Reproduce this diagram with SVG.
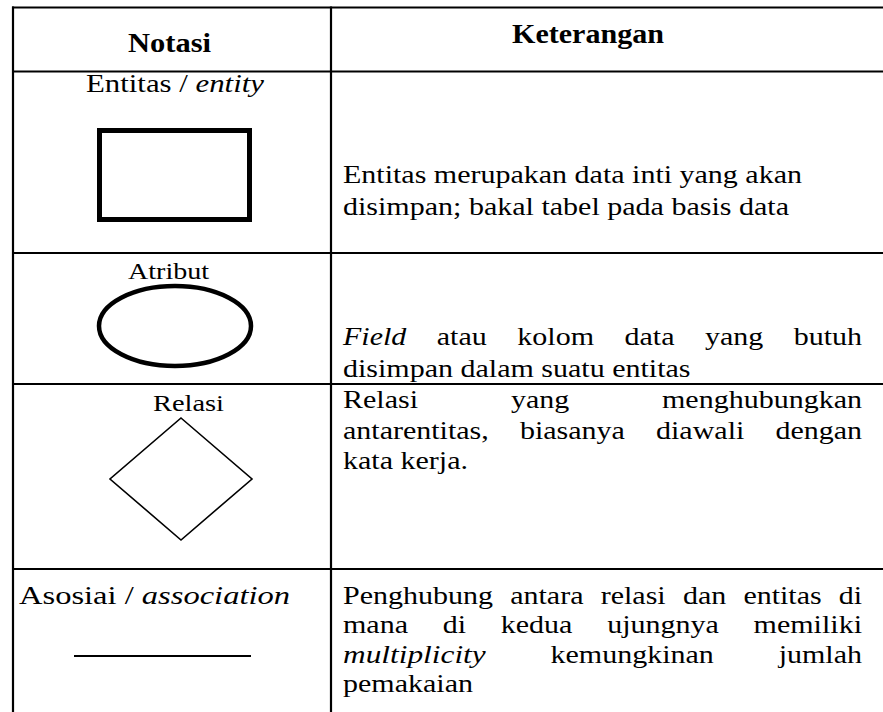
<svg xmlns="http://www.w3.org/2000/svg" width="883" height="712" viewBox="0 0 883 712">
<style>
  text { font-family: "Liberation Serif", Tinos, "Times New Roman", Times, "DejaVu Serif", serif; fill: #000; font-size: 26px; }
  .b { font-weight: bold; font-size: 27px; }
  .i { font-style: italic; }
  .sm { font-size: 24px; }
  .grid { stroke: #000; stroke-width: 2.2; fill: none; }
  .shape { fill: none; stroke: #000; }
</style>
<rect width="883" height="712" fill="#fff"/>
<g id="table-grid" class="grid">
  <line x1="12" y1="7.5" x2="883" y2="7.5"/>
  <line x1="13" y1="6.5" x2="13" y2="712"/>
  <line x1="331" y1="6.5" x2="331" y2="712"/>
  <line x1="12" y1="71.5" x2="883" y2="71.5"/>
  <line x1="12" y1="253" x2="883" y2="253"/>
  <line x1="12" y1="384" x2="883" y2="384"/>
  <line x1="12" y1="569" x2="883" y2="569"/>
</g>
<g id="header">
  <text class="b" x="128" y="52" textLength="83" lengthAdjust="spacingAndGlyphs">Notasi</text>
  <text class="b" x="512" y="43" textLength="152" lengthAdjust="spacingAndGlyphs">Keterangan</text>
</g>
<g id="entity">
  <text x="86" y="92" textLength="178" lengthAdjust="spacingAndGlyphs">Entitas / <tspan class="i">entity</tspan></text>
  <rect class="shape" x="99.5" y="130.5" width="150" height="89" stroke-width="5"/>
  <text x="343" y="183" textLength="459" lengthAdjust="spacingAndGlyphs">Entitas merupakan data inti yang akan</text>
  <text x="343" y="215" textLength="446" lengthAdjust="spacingAndGlyphs">disimpan; bakal tabel pada basis data</text>
</g>
<g id="attribute">
  <text class="sm" x="128" y="279" textLength="81" lengthAdjust="spacingAndGlyphs">Atribut</text>
  <ellipse class="shape" cx="175" cy="326" rx="76" ry="40" stroke-width="4.5"/>
  <text class="i" x="343" y="345" textLength="63.3" lengthAdjust="spacingAndGlyphs">Field</text>
  <text x="436.8" y="345" textLength="50" lengthAdjust="spacingAndGlyphs">atau</text>
  <text x="517.3" y="345" textLength="76.7" lengthAdjust="spacingAndGlyphs">kolom</text>
  <text x="624.5" y="345" textLength="50" lengthAdjust="spacingAndGlyphs">data</text>
  <text x="705" y="345" textLength="58.3" lengthAdjust="spacingAndGlyphs">yang</text>
  <text x="793.7" y="345" textLength="68.3" lengthAdjust="spacingAndGlyphs">butuh</text>
  <text x="343" y="377" textLength="347.5" lengthAdjust="spacingAndGlyphs">disimpan dalam suatu entitas</text>
</g>
<g id="relation">
  <text class="sm" x="153" y="411" textLength="71" lengthAdjust="spacingAndGlyphs">Relasi</text>
  <polygon class="shape" points="181,418 252,479 181,540 110,479" stroke-width="1.6"/>
  <text x="343" y="408" textLength="75" lengthAdjust="spacingAndGlyphs">Relasi</text>
  <text x="510.9" y="408" textLength="58.3" lengthAdjust="spacingAndGlyphs">yang</text>
  <text x="662" y="408" textLength="200" lengthAdjust="spacingAndGlyphs">menghubungkan</text>
  <text x="343" y="439" textLength="145.8" lengthAdjust="spacingAndGlyphs">antarentitas,</text>
  <text x="519.9" y="439" textLength="105" lengthAdjust="spacingAndGlyphs">biasanya</text>
  <text x="656" y="439" textLength="88.3" lengthAdjust="spacingAndGlyphs">diawali</text>
  <text x="775.4" y="439" textLength="86.6" lengthAdjust="spacingAndGlyphs">dengan</text>
  <text x="343" y="469" textLength="125" lengthAdjust="spacingAndGlyphs">kata kerja.</text>
</g>
<g id="association">
  <text x="19" y="604" textLength="271" lengthAdjust="spacingAndGlyphs">Asosiai / <tspan class="i">association</tspan></text>
  <line class="shape" x1="74" y1="656" x2="251" y2="656" stroke-width="2"/>
  <text x="343" y="604" textLength="150" lengthAdjust="spacingAndGlyphs">Penghubung</text>
  <text x="510.2" y="604" textLength="73.3" lengthAdjust="spacingAndGlyphs">antara</text>
  <text x="600.7" y="604" textLength="65" lengthAdjust="spacingAndGlyphs">relasi</text>
  <text x="682.9" y="604" textLength="43.3" lengthAdjust="spacingAndGlyphs">dan</text>
  <text x="743.4" y="604" textLength="78.3" lengthAdjust="spacingAndGlyphs">entitas</text>
  <text x="838.7" y="604" textLength="23.3" lengthAdjust="spacingAndGlyphs">di</text>
  <text x="343" y="633" textLength="65" lengthAdjust="spacingAndGlyphs">mana</text>
  <text x="442.8" y="633" textLength="23.3" lengthAdjust="spacingAndGlyphs">di</text>
  <text x="500.8" y="633" textLength="71.6" lengthAdjust="spacingAndGlyphs">kedua</text>
  <text x="607.2" y="633" textLength="111.7" lengthAdjust="spacingAndGlyphs">ujungnya</text>
  <text x="753.6" y="633" textLength="108.4" lengthAdjust="spacingAndGlyphs">memiliki</text>
  <text class="i" x="343" y="663" textLength="142.7" lengthAdjust="spacingAndGlyphs">multiplicity</text>
  <text x="550.5" y="663" textLength="163.3" lengthAdjust="spacingAndGlyphs">kemungkinan</text>
  <text x="778.7" y="663" textLength="83.3" lengthAdjust="spacingAndGlyphs">jumlah</text>
  <text x="343" y="692" textLength="130" lengthAdjust="spacingAndGlyphs">pemakaian</text>
</g>
</svg>
